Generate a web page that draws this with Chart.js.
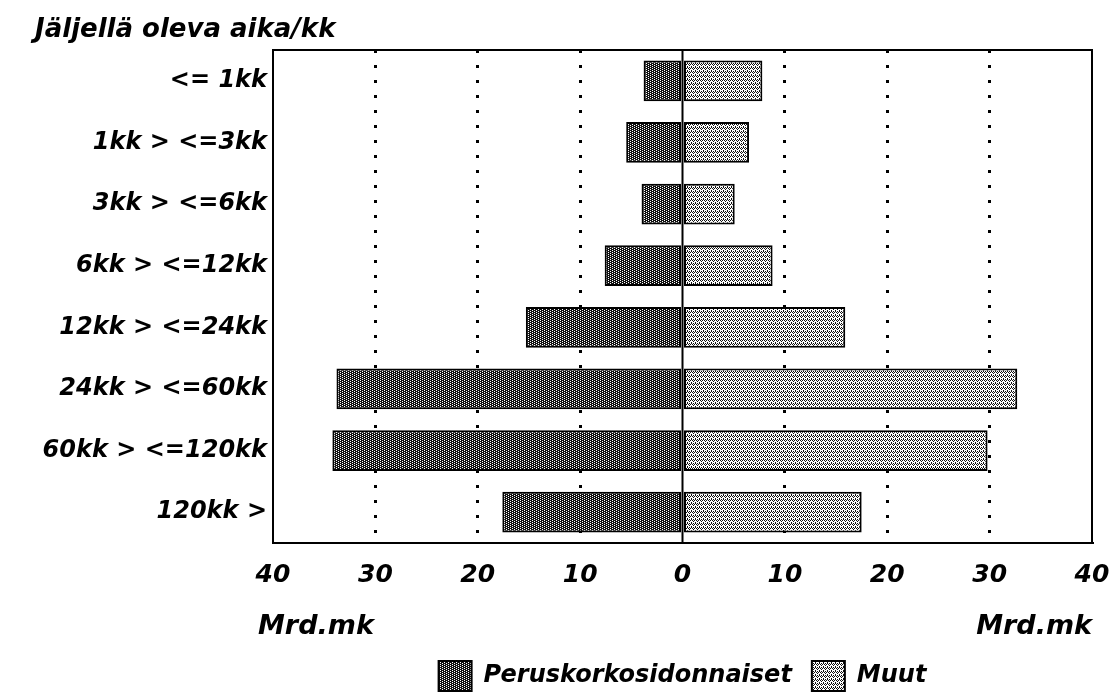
<!DOCTYPE html>
<html>
<head>
<meta charset="utf-8">
<script src="https://cdn.jsdelivr.net/npm/chart.js@4.4.1/dist/chart.umd.min.js"></script>
<style>
  html, body { margin: 0; padding: 0; background: #fff; }
  #wrap { width: 1113px; height: 695px; }
</style>
</head>
<body>
<div id="wrap"><canvas id="myChart"></canvas></div>
<script>
const categories = ["<= 1kk", "1kk > <=3kk", "3kk > <=6kk", "6kk > <=12kk", "12kk > <=24kk", "24kk > <=60kk", "60kk > <=120kk", "120kk >"];
const peruskorko = [-3.8, -5.5, -4.0, -7.6, -15.3, -33.8, -34.2, -17.6];
const muut = [7.8, 6.5, 5.1, 8.8, 15.9, 32.7, 29.8, 17.5];
const xTicks = [-40, -30, -20, -10, 0, 10, 20, 30, 40];

const FONT = "'DejaVu Sans', 'Liberation Sans', sans-serif";

// rasterikuviot pylvaisiin (kuten skannatussa kuvassa)
function makePattern(bg, fg, pts) {
    const c = document.createElement('canvas');
    c.width = 4; c.height = 4;
    const g = c.getContext('2d');
    g.fillStyle = bg;
    g.fillRect(0, 0, 4, 4);
    g.fillStyle = fg;
    pts.forEach(p => g.fillRect(p[0], p[1], 1, 1));
    return g.createPattern(c, 'repeat');
}
const darkFill = makePattern('#111', '#fff', [[0, 0], [2, 1], [0, 2], [2, 3]]);
const lightFill = makePattern('#fff', '#111', [[0, 0], [2, 0], [1, 1], [3, 2], [1, 3], [3, 3]]);

const extraText = {
    id: 'extraText',
    afterDraw(chart) {
        const { ctx, chartArea, scales } = chart;
        ctx.save();
        ctx.strokeStyle = '#000';
        ctx.lineWidth = 2;
        ctx.strokeRect(chartArea.left, chartArea.top, chartArea.right - chartArea.left, chartArea.bottom - chartArea.top);
        // nollaviiva
        const x0 = scales.x.getPixelForValue(0);
        ctx.beginPath();
        ctx.moveTo(x0, chartArea.top);
        ctx.lineTo(x0, chartArea.bottom);
        ctx.stroke();

        ctx.fillStyle = '#000';
        ctx.textBaseline = 'alphabetic';
        ctx.textAlign = 'left';
        ctx.font = "italic bold 26px " + FONT;
        ctx.fillText('Jäljellä oleva aika/kk', 35, 37);

        ctx.font = "italic bold 27px " + FONT;
        ctx.fillText('Mrd.mk', 258, 634);
        ctx.textAlign = 'right';
        ctx.fillText('Mrd.mk', 1092, 634);
        ctx.restore();
    }
};

new Chart(document.getElementById('myChart'), {
    type: 'bar',
    data: {
        labels: categories,
        datasets: [{
            label: 'Peruskorkosidonnaiset',
            data: peruskorko,
            backgroundColor: darkFill,
            borderColor: '#000',
            borderWidth: 2,
            borderSkipped: false,
            barPercentage: 0.66,
            categoryPercentage: 1
        }, {
            label: 'Muut',
            data: muut,
            backgroundColor: lightFill,
            borderColor: '#000',
            borderWidth: 2,
            borderSkipped: false,
            barPercentage: 0.66,
            categoryPercentage: 1
        }]
    },
    options: {
        indexAxis: 'y',
        responsive: true,
        maintainAspectRatio: false,
        animation: false,
        layout: { padding: { top: 50, right: 21, left: 0, bottom: -6 } },
        scales: {
            x: {
                stacked: true,
                min: -40,
                max: 40,
                afterBuildTicks(scale) {
                    scale.ticks = xTicks.map(v => ({ value: v }));
                },
                afterFit(scale) {
                    scale.height = 98;
                    scale.paddingLeft = 0;
                    scale.paddingRight = 0;
                },
                grid: {
                    drawTicks: false,
                    lineWidth: 3,
                    color: c => (c.tick && Math.abs(c.tick.value) > 0 && Math.abs(c.tick.value) < 40) ? '#000' : 'rgba(0,0,0,0)'
                },
                border: { display: true, color: '#000', width: 2, dash: [3, 12] },
                ticks: {
                    color: '#000',
                    padding: 17,
                    maxRotation: 0,
                    font: { family: FONT, size: 25, style: 'italic', weight: 'bold' },
                    callback: v => Math.abs(v)
                }
            },
            y: {
                stacked: true,
                afterFit(scale) { scale.width = 273; },
                grid: { display: false, drawTicks: false },
                border: { display: true, color: '#000', width: 2 },
                ticks: {
                    color: '#000',
                    padding: 6,
                    font: { family: FONT, size: 24, style: 'italic', weight: 'bold' }
                }
            }
        },
        plugins: {
            legend: {
                position: 'bottom',
                fullSize: false,
                labels: {
                    color: '#000',
                    boxWidth: 33,
                    boxHeight: 30,
                    padding: 20,
                    font: { family: FONT, size: 24, style: 'italic', weight: 'bold' }
                }
            },
            tooltip: { enabled: false }
        }
    },
    plugins: [extraText]
});
</script>
</body>
</html>
